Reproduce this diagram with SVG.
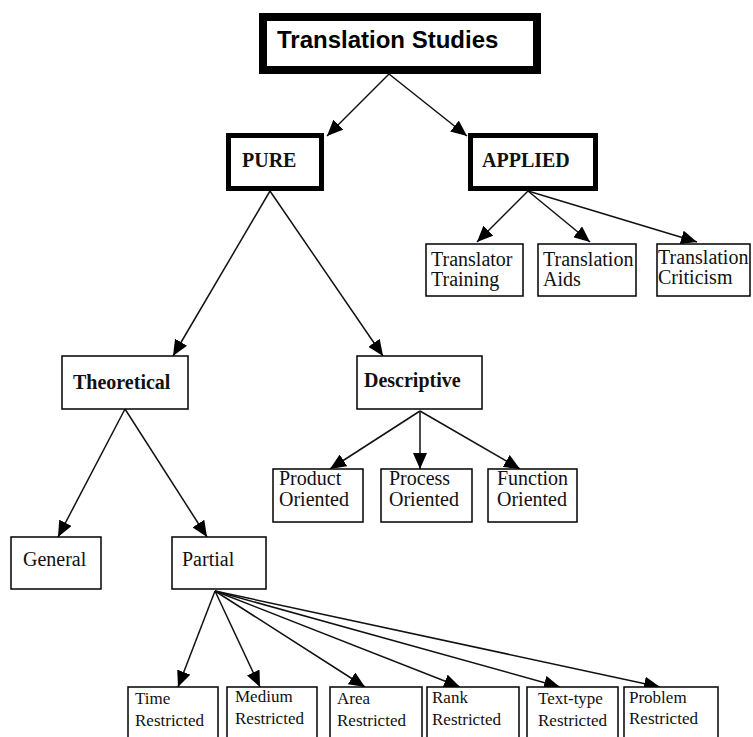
<svg xmlns="http://www.w3.org/2000/svg" width="753" height="737" viewBox="0 0 753 737">
<style>
  .box { fill: #fff; stroke: #000; stroke-width: 1.5; }
  .thick { fill: #fff; stroke: #000; stroke-width: 5; }
  .top { fill: #fff; stroke: #000; stroke-width: 8; }
  .t { font-family: "Liberation Serif", "Times New Roman", serif; font-size: 20px; fill: #111; }
  .tb { font-family: "Liberation Serif", "Times New Roman", serif; font-size: 20px; font-weight: bold; fill: #111; }
  .ts { font-family: "Liberation Serif", "Times New Roman", serif; font-size: 17px; fill: #111; }
  .title { font-family: "Liberation Sans", Arial, sans-serif; font-size: 24px; font-weight: bold; fill: #000; }
  .edge { stroke: #111; stroke-width: 1.5; fill: none; marker-end: url(#arr); }
</style>
<defs>
  <marker id="arr" viewBox="0 0 16 14" markerWidth="16" markerHeight="14" refX="16" refY="7" orient="auto" markerUnits="userSpaceOnUse">
    <path d="M0,0 L16,7 L0,14 z" fill="#000"/>
  </marker>
</defs>
<rect width="753" height="737" fill="#fff"/>

<g id="connectors">
  <line class="edge" x1="389" y1="74" x2="327" y2="136"/>
  <line class="edge" x1="389" y1="74" x2="467" y2="136"/>
  <line class="edge" x1="528" y1="191" x2="477" y2="242"/>
  <line class="edge" x1="528" y1="191" x2="590" y2="242"/>
  <line class="edge" x1="528" y1="191" x2="697" y2="242"/>
  <line class="edge" x1="270" y1="191" x2="173" y2="356"/>
  <line class="edge" x1="270" y1="191" x2="383" y2="356"/>
  <line class="edge" x1="420" y1="411" x2="330" y2="469"/>
  <line class="edge" x1="420" y1="411" x2="420" y2="469"/>
  <line class="edge" x1="420" y1="411" x2="520" y2="469"/>
  <line class="edge" x1="125" y1="409" x2="58" y2="537"/>
  <line class="edge" x1="125" y1="409" x2="207" y2="537"/>
  <line class="edge" x1="215" y1="591" x2="178" y2="687"/>
  <line class="edge" x1="215" y1="591" x2="260" y2="687"/>
  <line class="edge" x1="215" y1="591" x2="365" y2="687"/>
  <line class="edge" x1="215" y1="591" x2="460" y2="687"/>
  <line class="edge" x1="215" y1="591" x2="560" y2="687"/>
  <line class="edge" x1="215" y1="591" x2="660" y2="687"/>
</g>

<g id="translation-studies">
  <rect class="top" x="263" y="17" width="274" height="53"/>
  <text class="title" x="277" y="48">Translation Studies</text>
</g>
<g id="pure">
  <rect class="thick" x="228.5" y="135.5" width="93" height="53"/>
  <text class="tb" x="242" y="167">PURE</text>
</g>
<g id="applied">
  <rect class="thick" x="470.5" y="135.5" width="125" height="53"/>
  <text class="tb" x="482" y="167">APPLIED</text>
</g>
<g id="translator-training">
  <rect class="box" x="426" y="244" width="97" height="52"/>
  <text class="t" x="431" y="266">Translator</text>
  <text class="t" x="431" y="286">Training</text>
</g>
<g id="translation-aids">
  <rect class="box" x="538" y="244" width="98" height="52"/>
  <text class="t" x="543" y="266">Translation</text>
  <text class="t" x="543" y="286">Aids</text>
</g>
<g id="translation-criticism">
  <rect class="box" x="657" y="244" width="93" height="52"/>
  <text class="t" x="658" y="264">Translation</text>
  <text class="t" x="658" y="284">Criticism</text>
</g>
<g id="theoretical">
  <rect class="box" x="62" y="356" width="126" height="53"/>
  <text class="tb" x="73" y="389">Theoretical</text>
</g>
<g id="descriptive">
  <rect class="box" x="357" y="356" width="125" height="53"/>
  <text class="tb" x="364" y="387">Descriptive</text>
</g>
<g id="product-oriented">
  <rect class="box" x="273" y="469" width="90" height="53"/>
  <text class="t" x="279" y="485">Product</text>
  <text class="t" x="279" y="506">Oriented</text>
</g>
<g id="process-oriented">
  <rect class="box" x="381" y="469" width="91" height="53"/>
  <text class="t" x="389" y="485">Process</text>
  <text class="t" x="389" y="506">Oriented</text>
</g>
<g id="function-oriented">
  <rect class="box" x="488" y="469" width="89" height="53"/>
  <text class="t" x="497" y="485">Function</text>
  <text class="t" x="497" y="506">Oriented</text>
</g>
<g id="general">
  <rect class="box" x="11" y="537" width="90" height="52"/>
  <text class="t" x="23" y="566">General</text>
</g>
<g id="partial">
  <rect class="box" x="172" y="537" width="94" height="52"/>
  <text class="t" x="182" y="566">Partial</text>
</g>
<g id="time-restricted">
  <rect class="box" x="128" y="687" width="90" height="60"/>
  <text class="ts" x="135" y="704">Time</text>
  <text class="ts" x="135" y="726">Restricted</text>
</g>
<g id="medium-restricted">
  <rect class="box" x="227" y="687" width="90" height="60"/>
  <text class="ts" x="235" y="702">Medium</text>
  <text class="ts" x="235" y="724">Restricted</text>
</g>
<g id="area-restricted">
  <rect class="box" x="330" y="687" width="92" height="60"/>
  <text class="ts" x="337" y="704">Area</text>
  <text class="ts" x="337" y="726">Restricted</text>
</g>
<g id="rank-restricted">
  <rect class="box" x="427" y="687" width="92" height="60"/>
  <text class="ts" x="432" y="703">Rank</text>
  <text class="ts" x="432" y="725">Restricted</text>
</g>
<g id="text-type-restricted">
  <rect class="box" x="527" y="687" width="91" height="60"/>
  <text class="ts" x="538" y="704">Text-type</text>
  <text class="ts" x="538" y="726">Restricted</text>
</g>
<g id="problem-restricted">
  <rect class="box" x="624" y="687" width="94" height="60"/>
  <text class="ts" x="629" y="703">Problem</text>
  <text class="ts" x="629" y="724">Restricted</text>
</g>
</svg>
